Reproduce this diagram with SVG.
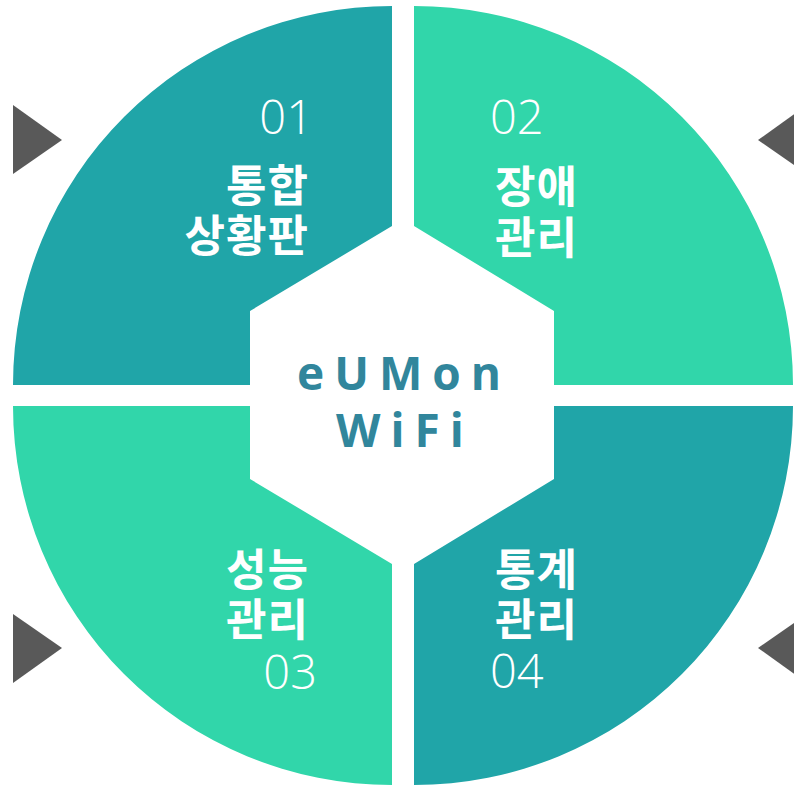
<svg xmlns="http://www.w3.org/2000/svg" width="794" height="788" viewBox="0 0 794 788">
<style>
.dark{fill:#20A5A8}
.light{fill:#31D6AA}
.tri{fill:#595959}
.num{font-family:"Open Sans","Liberation Sans",sans-serif;font-weight:300;font-size:47px;fill:#ffffff}
.lab{font-family:"Noto Sans CJK KR","Noto Sans",sans-serif;font-weight:700;font-size:44px;letter-spacing:1px;fill:#ffffff}
.ctr{font-family:"Open Sans","Liberation Sans",sans-serif;font-weight:700;font-size:46px;fill:#31869C;letter-spacing:10px}
</style>
<rect width="794" height="788" fill="#ffffff"/>
<g id="q1">
<path class="dark" d="M392,6 A379,379 0 0 0 13,385 L250,385 L250,311 L392,226 Z"/>
<text class="num" x="313" y="134" text-anchor="end">01</text>
<text class="lab" x="309" y="202" text-anchor="end">통합</text>
<text class="lab" x="309" y="252" text-anchor="end">상황판</text>
</g>
<g id="q2">
<path class="light" d="M414,6 A379,379 0 0 1 793,385 L554,385 L554,311 L414,226 Z"/>
<text class="num" x="490" y="134">02</text>
<text class="lab" x="495" y="203">장애</text>
<text class="lab" x="495" y="254">관리</text>
</g>
<g id="q3">
<path class="light" d="M392,785 A379,379 0 0 1 13,406 L250,406 L250,479 L392,564 Z"/>
<text class="lab" x="309" y="586" text-anchor="end">성능</text>
<text class="lab" x="309" y="636" text-anchor="end">관리</text>
<text class="num" x="317" y="689" text-anchor="end">03</text>
</g>
<g id="q4">
<path class="dark" d="M414,785 A379,379 0 0 0 793,406 L554,406 L554,479 L414,564 Z"/>
<text class="lab" x="495" y="586">통계</text>
<text class="lab" x="495" y="636">관리</text>
<text class="num" x="490" y="688">04</text>
</g>
<g id="center">
<text class="ctr" x="404" y="390" text-anchor="middle">eUMon</text>
<text class="ctr" x="405" y="447" text-anchor="middle">WiFi</text>
</g>
<g id="arrows">
<polygon class="tri" points="13,105 62,140 13,174"/>
<polygon class="tri" points="13,614 62,648 13,683"/>
<polygon class="tri" points="758,140 807,105 807,174"/>
<polygon class="tri" points="758,648 807,614 807,683"/>
</g>
</svg>
